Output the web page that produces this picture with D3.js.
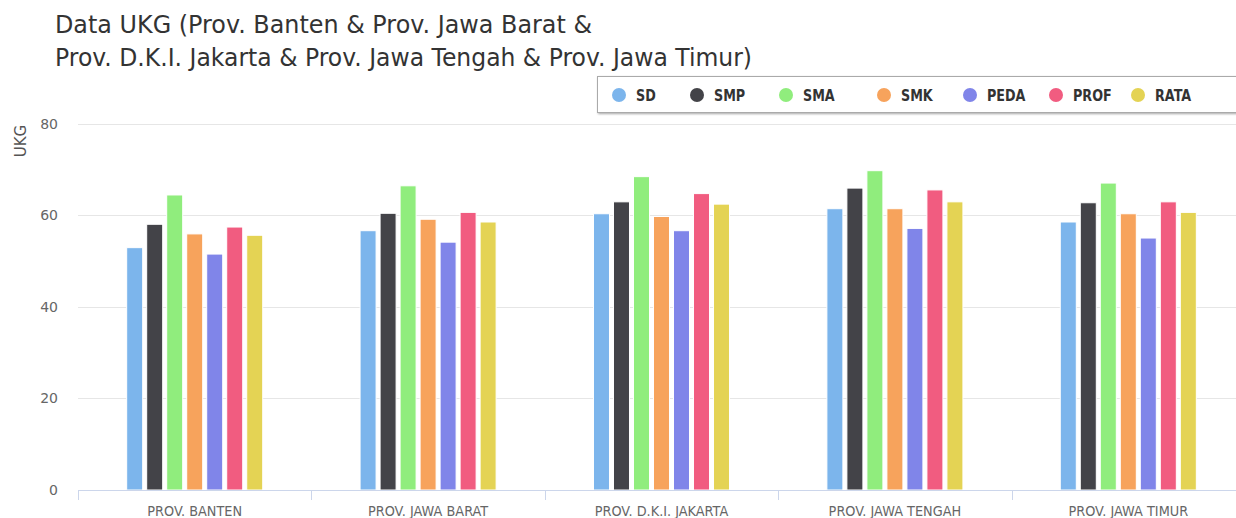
<!DOCTYPE html>
<html>
<head>
<meta charset="utf-8">
<script src="https://cdn.jsdelivr.net/npm/d3@7"></script>
<style>
  body { margin: 0; background: #fff; }
  svg { display: block; }
  .cond { font-family: "DejaVu Sans", sans-serif; }
</style>
</head>
<body>
<div id="chart"></div>
<script>
// data
var categories = ["PROV. BANTEN", "PROV. JAWA BARAT", "PROV. D.K.I. JAKARTA", "PROV. JAWA TENGAH", "PROV. JAWA TIMUR"];
var seriesNames = ["SD", "SMP", "SMA", "SMK", "PEDA", "PROF", "RATA"];
var SD   = [52.9, 56.6, 60.3, 61.4, 58.5];
var SMP  = [58.0, 60.4, 62.9, 65.9, 62.7];
var SMA  = [64.4, 66.4, 68.4, 69.7, 67.0];
var SMK  = [55.9, 59.1, 59.7, 61.4, 60.3];
var PEDA = [51.5, 54.1, 56.6, 57.1, 55.0];
var PROF = [57.4, 60.6, 64.7, 65.5, 62.9];
var RATA = [55.6, 58.5, 62.4, 62.9, 60.6];
var yTicks = [0, 20, 40, 60, 80];

var colors = ["#7cb5ec", "#434348", "#90ed7d", "#f7a35c", "#8085e9", "#f15c80", "#e4d354"];
var seriesValues = [SD, SMP, SMA, SMK, PEDA, PROF, RATA];

var width = 1236, height = 518;
var plot = { left: 78, right: 1245, top: 123.5, bottom: 490 };

var svg = d3.select("#chart").append("svg")
  .attr("width", width)
  .attr("height", height);

// title
var title = svg.append("text")
  .attr("class", "cond")
  .style("font-size", "25px")
  .style("fill", "#333");
title.append("tspan").attr("x", 55).attr("y", 33)
  .attr("textLength", 537).attr("lengthAdjust", "spacingAndGlyphs")
  .text("Data UKG (Prov. Banten & Prov. Jawa Barat &");
title.append("tspan").attr("x", 55).attr("y", 66)
  .attr("textLength", 697).attr("lengthAdjust", "spacingAndGlyphs")
  .text("Prov. D.K.I. Jakarta & Prov. Jawa Tengah & Prov. Jawa Timur)");

var y = d3.scaleLinear().domain([0, 80]).range([plot.bottom, plot.top]);

var x0 = d3.scaleBand()
  .domain(categories)
  .range([plot.left, plot.right])
  .paddingInner(0.4)
  .paddingOuter(0.2);

var x1 = d3.scaleBand()
  .domain(seriesNames)
  .range([0, x0.bandwidth()])
  .paddingInner(0.2)
  .paddingOuter(0.1);

// gridlines
svg.append("g")
  .selectAll("line")
  .data(yTicks.filter(function(d) { return d > 0; }))
  .enter().append("line")
  .attr("x1", plot.left).attr("x2", width)
  .attr("y1", function(d) { return Math.round(y(d)) + 0.5; })
  .attr("y2", function(d) { return Math.round(y(d)) + 0.5; })
  .attr("stroke", "#e6e6e6")
  .attr("stroke-width", 1);

// y axis labels
svg.append("g")
  .selectAll("text")
  .data(yTicks)
  .enter().append("text")
  .attr("class", "cond")
  .attr("x", 58)
  .attr("y", function(d) { return y(d) + 5; })
  .attr("text-anchor", "end")
  .style("font-size", "14px")
  .style("fill", "#666")
  .text(function(d) { return d; });

svg.append("text")
  .attr("class", "cond")
  .attr("transform", "translate(26,141) rotate(-90)")
  .attr("text-anchor", "middle")
  .style("font-size", "15px")
  .style("fill", "#555")
  .text("UKG");

// bars
var groups = svg.append("g")
  .selectAll("g")
  .data(categories)
  .enter().append("g")
  .attr("transform", function(d) { return "translate(" + x0(d) + ",0)"; });

groups.selectAll("rect")
  .data(function(c, i) {
    return seriesNames.map(function(s, j) {
      return { series: s, value: seriesValues[j][i], color: colors[j] };
    });
  })
  .enter().append("rect")
  .attr("x", function(d) { return x1(d.series); })
  .attr("width", x1.bandwidth())
  .attr("y", function(d) { return y(d.value); })
  .attr("height", function(d) { return y(0) - y(d.value); })
  .attr("fill", function(d) { return d.color; })
  .attr("stroke", "#fff")
  .attr("stroke-width", 1);

// x axis
var xAxis = svg.append("g");
xAxis.append("line")
  .attr("x1", plot.left).attr("x2", width)
  .attr("y1", plot.bottom + 0.5).attr("y2", plot.bottom + 0.5)
  .attr("stroke", "#ccd6eb");

var step = x0.step();
var bounds = categories.map(function(c) { return x0(c) - step * 0.2; });
xAxis.selectAll(".tick")
  .data(bounds)
  .enter().append("line")
  .attr("x1", function(d) { return Math.round(d) + 0.5; })
  .attr("x2", function(d) { return Math.round(d) + 0.5; })
  .attr("y1", plot.bottom)
  .attr("y2", plot.bottom + 10)
  .attr("stroke", "#ccd6eb");

// category labels, squeezed a little like the narrow original font
xAxis.selectAll("text")
  .data(categories)
  .enter().append("text")
  .attr("class", "cond")
  .attr("transform", function(d) {
    return "translate(" + (x0(d) + x0.bandwidth() / 2) + ",516) scale(0.92,1)";
  })
  .attr("text-anchor", "middle")
  .style("font-size", "14px")
  .style("fill", "#666")
  .text(function(d) { return d; });

// legend
var legend = svg.append("g");
legend.append("rect")
  .attr("x", 597.5).attr("y", 76.5)
  .attr("width", 660).attr("height", 36)
  .attr("fill", "#fff")
  .attr("stroke", "#aaa")
  .attr("stroke-width", 1)
  .style("filter", "drop-shadow(1px 1px 1px rgba(0,0,0,0.35))");

var legendX = [619, 697, 786, 884, 970, 1056, 1138];
var items = legend.selectAll(".item")
  .data(seriesNames)
  .enter().append("g")
  .attr("transform", function(d, i) { return "translate(" + legendX[i] + ",95)"; });

items.append("circle")
  .attr("r", 7)
  .attr("fill", function(d, i) { return colors[i]; });

// condensed look: squeeze the label horizontally
items.append("text")
  .attr("class", "cond")
  .attr("transform", "translate(17,5.5) scale(0.85,1)")
  .style("font-size", "15px")
  .style("font-weight", "bold")
  .style("fill", "#333")
  .text(function(d) { return d; });
</script>
</body>
</html>
